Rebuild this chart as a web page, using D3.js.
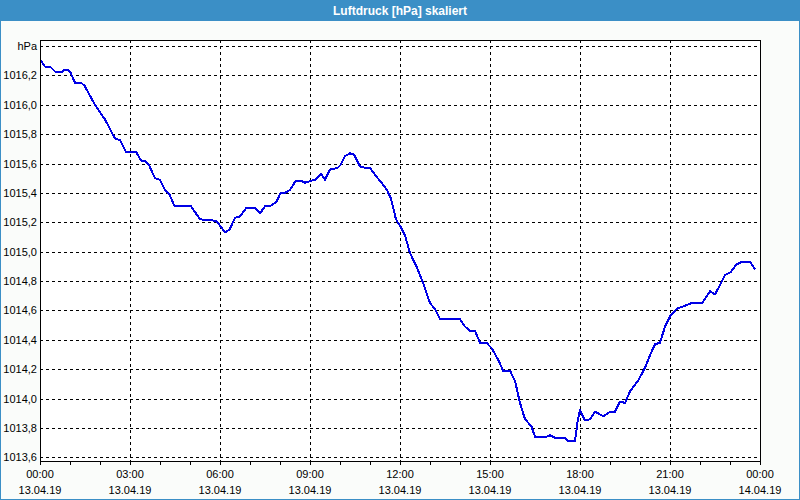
<!DOCTYPE html>
<html><head><meta charset="utf-8">
<script src="https://cdn.jsdelivr.net/npm/d3@7"></script>
<style>
html,body{margin:0;padding:0;background:#fafcfa;}
svg{display:block;}
text{font-family:Tahoma,"Liberation Sans",Arial,sans-serif;}
</style></head><body>
<svg id="chart" width="800" height="500"></svg>
<script>
const title = "Luftdruck [hPa] skaliert";
const unitLabel = "hPa";
const times = ["00:00","00:10","00:20","00:32","00:43","00:49","00:55","01:01","01:10","01:22","01:29","01:50","02:10","02:30","02:40","02:52","03:12","03:22","03:30","03:38","03:50","04:00","04:10","04:19","04:29","05:02","05:20","05:53","06:10","06:19","06:30","06:40","06:53","07:10","07:20","07:30","07:40","07:53","08:01","08:10","08:20","08:31","08:43","08:50","09:00","09:10","09:22","09:30","09:40","09:55","10:01","10:10","10:20","10:28","10:40","10:52","11:00","11:13","11:23","11:34","11:42","11:52","12:01","12:10","12:20","12:33","12:47","13:00","13:10","13:20","14:00","14:10","14:20","14:30","14:40","14:53","15:04","15:17","15:26","15:40","15:50","16:00","16:10","16:23","16:30","16:53","17:00","17:12","17:30","17:36","17:50","17:55","18:00","18:10","18:20","18:30","18:47","19:00","19:10","19:20","19:30","19:40","19:56","20:10","20:22","20:30","20:40","20:50","21:00","21:13","21:28","21:43","22:04","22:20","22:30","22:38","22:50","23:01","23:12","23:23","23:40","23:50"];
const pressure = [1016.31,1016.26,1016.26,1016.22,1016.22,1016.24,1016.24,1016.22,1016.15,1016.15,1016.13,1016.00,1015.90,1015.77,1015.76,1015.68,1015.68,1015.62,1015.62,1015.59,1015.50,1015.49,1015.42,1015.39,1015.31,1015.31,1015.22,1015.21,1015.13,1015.15,1015.23,1015.24,1015.30,1015.30,1015.26,1015.31,1015.31,1015.34,1015.40,1015.40,1015.42,1015.48,1015.48,1015.47,1015.48,1015.49,1015.53,1015.49,1015.56,1015.57,1015.59,1015.65,1015.67,1015.66,1015.58,1015.57,1015.57,1015.51,1015.47,1015.42,1015.36,1015.22,1015.17,1015.11,1014.99,1014.90,1014.78,1014.65,1014.61,1014.54,1014.54,1014.49,1014.46,1014.46,1014.38,1014.38,1014.34,1014.26,1014.19,1014.19,1014.12,1013.97,1013.86,1013.81,1013.74,1013.74,1013.75,1013.73,1013.73,1013.71,1013.71,1013.84,1013.92,1013.85,1013.86,1013.91,1013.88,1013.91,1013.91,1013.98,1013.97,1014.05,1014.12,1014.21,1014.31,1014.37,1014.38,1014.49,1014.56,1014.61,1014.63,1014.65,1014.65,1014.73,1014.71,1014.76,1014.84,1014.86,1014.91,1014.93,1014.93,1014.88];
const yTicks = [1013.6,1013.8,1014.0,1014.2,1014.4,1014.6,1014.8,1015.0,1015.2,1015.4,1015.6,1015.8,1016.0,1016.2,1016.4];
const xTickLabels = [["00:00","13.04.19"],["03:00","13.04.19"],["06:00","13.04.19"],["09:00","13.04.19"],["12:00","13.04.19"],["15:00","13.04.19"],["18:00","13.04.19"],["21:00","13.04.19"],["00:00","14.04.19"]];
const day = "2019-04-13";

const parse = d3.timeParse("%Y-%m-%d %H:%M");
const data = times.map((t,i)=>({t:parse(day+" "+t), v:pressure[i]}));

const svg = d3.select("#chart");
const W=800,H=500;
const L=40,R=760,T=40,B=461;

// frame
svg.append("rect").attr("x",0).attr("y",0).attr("width",W).attr("height",H).attr("fill","#fafcfa");
svg.append("rect").attr("x",0.5).attr("y",0.5).attr("width",W-1).attr("height",H-1).attr("fill","none").attr("stroke","#3b8fc6");
svg.append("rect").attr("x",0).attr("y",0).attr("width",W).attr("height",21).attr("fill","#3b8fc6");
svg.append("text").attr("x",400).attr("y",15).attr("text-anchor","middle").attr("fill","#ffffff")
  .attr("font-weight","bold").attr("font-size","12px").text(title);

const x = d3.scaleTime().domain([parse(day+" 00:00"), d3.timeDay.offset(parse(day+" 00:00"),1)]).range([L,R]);
const y = d3.scaleLinear().domain([1013.575,1016.441]).range([B,T]);

svg.append("rect").attr("x",L).attr("y",T).attr("width",R-L).attr("height",B-T).attr("fill","#ffffff");

const majorTicks = d3.timeHour.every(3).range(x.domain()[0], d3.timeMinute.offset(x.domain()[1],1));
const minorTicks = d3.timeHour.every(1).range(x.domain()[0], d3.timeMinute.offset(x.domain()[1],1));

// grid
const grid = svg.append("g").attr("stroke","#000").attr("stroke-width",1).attr("stroke-dasharray","3,3").attr("shape-rendering","crispEdges");
yTicks.forEach(v=>{
  const yy = Math.round(y(v))+0.5;
  grid.append("line").attr("x1",L).attr("x2",R).attr("y1",yy).attr("y2",yy);
});
majorTicks.slice(1,-1).forEach(d=>{
  const xx = Math.round(x(d))+0.5;
  grid.append("line").attr("x1",xx).attr("x2",xx).attr("y1",T).attr("y2",B);
});

// line
const line = d3.line().x(d=>x(d.t)).y(d=>y(d.v));
svg.append("path").datum(data).attr("d",line).attr("fill","none").attr("stroke","#0000e6").attr("stroke-width",2).attr("stroke-linejoin","round").attr("shape-rendering","crispEdges");

// plot border
svg.append("rect").attr("x",L+0.5).attr("y",T+0.5).attr("width",R-L).attr("height",B-T).attr("fill","none").attr("stroke","#000").attr("shape-rendering","crispEdges");

// x axis ticks
const xaxis = svg.append("g").attr("transform",`translate(0,${B+0.5})`);
const xAx = d3.axisBottom(x).tickValues(minorTicks).tickSize(3).tickFormat("");
xaxis.call(xAx);
xaxis.select(".domain").remove();
xaxis.selectAll("line").attr("stroke","#000").attr("shape-rendering","crispEdges");
// x labels
majorTicks.forEach((d,i)=>{
  const lab = xTickLabels[i];
  const g = svg.append("g");
  g.append("text").attr("x",x(d)).attr("y",478).attr("text-anchor","middle").attr("font-size","11px").attr("fill","#000").text(lab[0]);
  g.append("text").attr("x",x(d)).attr("y",494).attr("text-anchor","middle").attr("font-size","11px").attr("fill","#000").text(lab[1]);
});

// y labels
const fmt = v=>d3.format(".1f")(v).replace(".",",");
yTicks.forEach((v,i)=>{
  const label = (i===yTicks.length-1) ? unitLabel : fmt(v);
  svg.append("text").attr("x",37).attr("y",y(v)+4).attr("text-anchor","end").attr("font-size","11px").attr("fill","#000").text(label);
});
</script></body></html>
